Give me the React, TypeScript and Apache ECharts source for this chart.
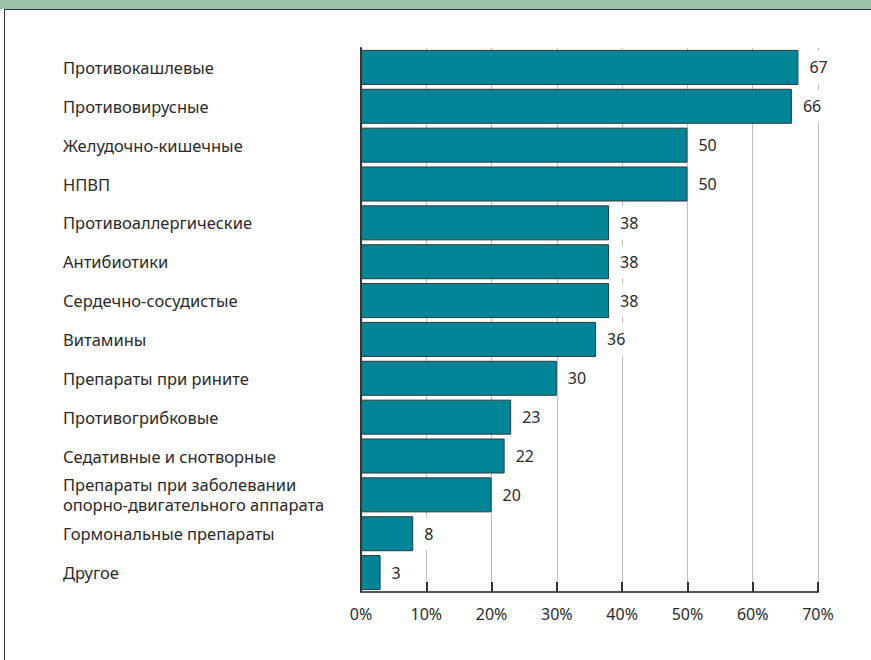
import React, { useEffect, useRef } from "react";
import * as echarts from "echarts";

const categories = [
  "Противокашлевые",
  "Противовирусные",
  "Желудочно-кишечные",
  "НПВП",
  "Противоаллергические",
  "Антибиотики",
  "Сердечно-сосудистые",
  "Витамины",
  "Препараты при рините",
  "Противогрибковые",
  "Седативные и снотворные",
  "Препараты при заболевании\nопорно-двигательного аппарата",
  "Гормональные препараты",
  "Другое",
];

const values = [67, 66, 50, 50, 38, 38, 38, 36, 30, 23, 22, 20, 8, 3];

const axisMin = 0;
const axisMax = 70;
const axisStep = 10;

const FONT = "'Noto Sans', 'Open Sans', sans-serif";

export default function App() {
  const ref = useRef<HTMLDivElement>(null);

  useEffect(() => {
    if (!ref.current) return;
    const chart = echarts.init(ref.current, null, { renderer: "svg" });
    chart.setOption({
      animation: false,
      textStyle: { fontFamily: FONT },
      grid: { left: 361, right: 53, top: 48, bottom: 68, containLabel: false },
      xAxis: {
        type: "value",
        min: axisMin,
        max: axisMax,
        interval: axisStep,
        axisLine: { show: true, lineStyle: { color: "#555", width: 2 } },
        axisTick: { show: true, inside: true, length: 10, lineStyle: { color: "#333", width: 2 } },
        splitLine: { show: true, lineStyle: { color: "#bdbdbd", width: 1 } },
        axisLabel: {
          formatter: "{value}%",
          color: "#2a2a2a",
          fontSize: 16,
          fontFamily: FONT,
          margin: 14,
        },
      },
      yAxis: {
        type: "category",
        inverse: true,
        data: categories,
        axisLine: { show: true, lineStyle: { color: "#333", width: 2 } },
        axisTick: { show: false },
        splitLine: { show: false },
        axisLabel: {
          align: "left",
          margin: 298,
          color: "#2a2a2a",
          fontSize: 16.5,
          lineHeight: 20,
          padding: [6, 0, 0, 0],
          fontFamily: FONT,
        },
      },
      series: [
        {
          type: "bar",
          data: values,
          barWidth: 35,
          itemStyle: { color: "#008496", borderColor: "#2b3a3d", borderWidth: 1 },
          label: {
            show: true,
            position: "right",
            distance: 8,
            color: "#2a2a2a",
            fontSize: 16,
            fontFamily: FONT,
            backgroundColor: "#fff",
            padding: [12, 3, 5, 3],
          },
        },
      ],
    });
    return () => chart.dispose();
  }, []);

  return (
    <div style={{ position: "fixed", left: 0, top: 0, width: 871, height: 660, background: "#fff" }}>
      <div style={{ position: "absolute", left: 0, top: 0, width: 871, height: 9, background: "#9ac2a7" }} />
      <div style={{ position: "absolute", left: 4, top: 9, width: 867, height: 1, background: "#333" }} />
      <div style={{ position: "absolute", left: 4, top: 9, width: 1, height: 651, background: "#333" }} />
      <div ref={ref} style={{ position: "absolute", left: 0, top: 0, width: 871, height: 660 }} />
    </div>
  );
}
